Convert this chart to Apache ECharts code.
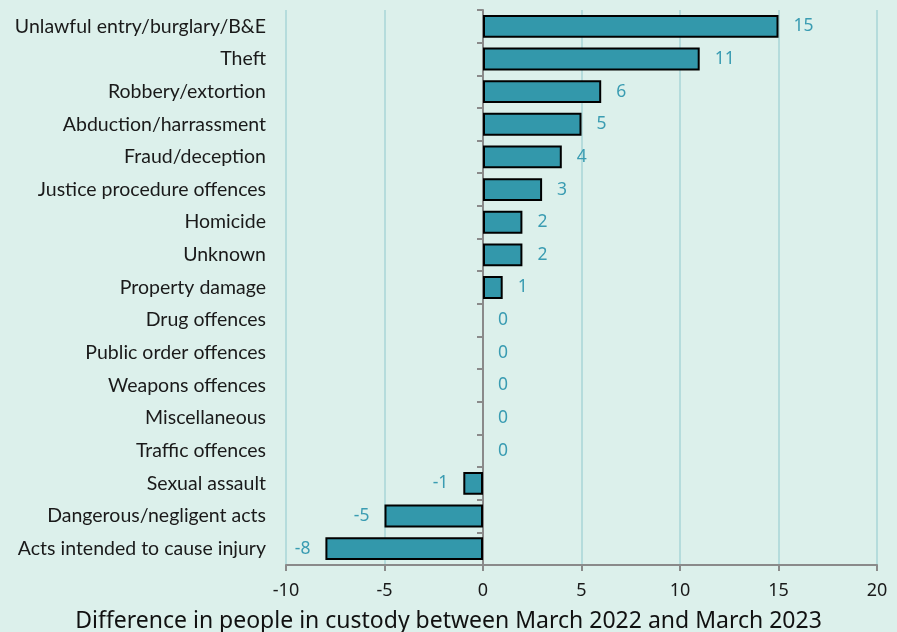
<!DOCTYPE html>
<html><head><meta charset="utf-8">
<script src="https://cdn.jsdelivr.net/npm/echarts@6/dist/echarts.min.js"></script>
<style>html,body{margin:0;padding:0;background:#dcf0eb;}#c{width:897px;height:632px;}</style>
</head><body><div id="c"></div>
<script>
const categories = ["Unlawful entry/burglary/B&E","Theft","Robbery/extortion","Abduction/harrassment","Fraud/deception","Justice procedure offences","Homicide","Unknown","Property damage","Drug offences","Public order offences","Weapons offences","Miscellaneous","Traffic offences","Sexual assault","Dangerous/negligent acts","Acts intended to cause injury"];
const values = [15,11,6,5,4,3,2,2,1,0,0,0,0,0,-1,-5,-8];
const axisTitle = "Difference in people in custody between March 2022 and March 2023";

const cats = categories.slice().reverse();
const vals = values.slice().reverse();
const chart = echarts.init(document.getElementById('c'));
chart.setOption({
  backgroundColor: '#dcf0eb',
  animation: false,
  title: {
    text: axisTitle, left: 'center', top: 610, padding: 0,
    textStyle: {color: '#111', fontSize: 23, fontWeight: 'normal', fontFamily: 'Noto Sans'}
  },
  grid: {left: 286, right: 20, top: 10, bottom: 67, outerBoundsMode: 'none', containLabel: false},
  xAxis: {
    type: 'value', min: -10, max: 20, interval: 5,
    axisLine: {show: true, onZero: false, lineStyle: {color: '#8a8a8a', width: 2}},
    axisTick: {show: true, length: 6, lineStyle: {color: '#8a8a8a', width: 2}},
    axisLabel: {color: '#1a1a1a', fontSize: 18, fontFamily: 'Noto Sans', margin: 17},
    splitLine: {show: true, lineStyle: {color: '#b5dcdc', width: 2}}
  },
  yAxis: [{
    type: 'category', data: cats, position: 'left',
    axisLine: {show: false, onZero: false},
    axisTick: {show: false},
    axisLabel: {color: '#1a1a1a', fontSize: 19.5, fontFamily: 'Lato', margin: 20}
  }, {
    type: 'category', data: cats, position: 'left',
    axisLine: {show: true, onZero: true, lineStyle: {color: '#8a8a8a', width: 2}},
    axisTick: {show: true, length: 6, lineStyle: {color: '#8a8a8a', width: 2}},
    axisLabel: {show: false}
  }],
  series: [{
    type: 'bar', yAxisIndex: 0, barCategoryGap: '30%',
    data: vals.map(v => ({
      value: v,
      label: {position: v < 0 ? 'left' : 'right'},
      itemStyle: v === 0 ? {borderWidth: 0} : {}
    })),
    itemStyle: {color: '#3398ab', borderColor: '#000', borderWidth: 2},
    label: {
      show: true, fontSize: 17.5, fontFamily: 'Noto Sans', color: '#3a9cb2', distance: 15,
      formatter: p => String(p.value)
    }
  }]
});
</script></body></html>
